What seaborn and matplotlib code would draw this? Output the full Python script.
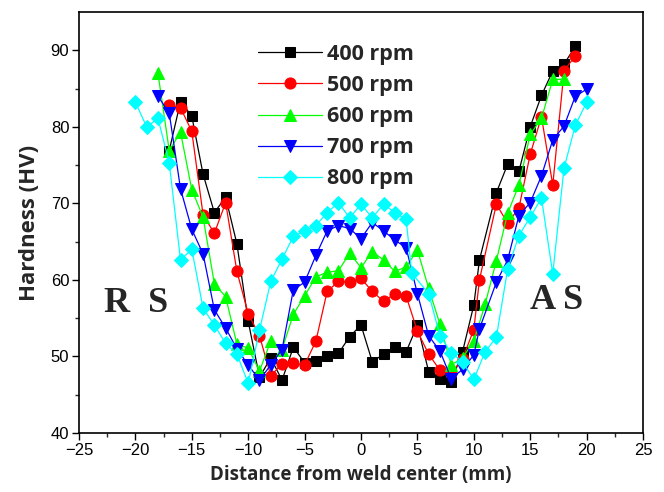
import numpy as np
import pandas as pd
import matplotlib
matplotlib.use('Agg')
import matplotlib.pyplot as plt
import seaborn as sns

# ── Data ──────────────────────────────────────────────────────────────────────
x_400 = [-17, -16, -15, -14, -13, -12, -11, -10, -9, -8, -7, -6, -5, -4, -3, -2, -1, 0,
         1, 2, 3, 4, 5, 6, 7, 8, 9, 10, 10.5, 12, 13, 14, 15, 16, 17, 18, 19]
hv_400 = [76.9, 83.3, 81.4, 73.8, 68.8, 70.8, 64.7, 54.6, 47.3, 49.8, 46.9, 51.2, 49.2, 49.4,
          50.1, 50.4, 52.6, 54.1, 49.3, 50.3, 51.3, 50.6, 54.1, 48.0, 47.1, 46.7, 50.6, 56.7,
          62.6, 71.4, 75.1, 74.2, 80.0, 84.1, 87.3, 88.2, 90.5]

x_500 = [-17, -16, -15, -14, -13, -12, -11, -10, -9, -8, -7, -6, -5, -4, -3, -2, -1, 0,
         1, 2, 3, 4, 5, 6, 7, 8, 9, 10, 10.5, 12, 13, 14, 15, 16, 17, 18, 19]
hv_500 = [82.8, 82.5, 79.4, 68.5, 66.1, 70.1, 61.1, 55.6, 52.7, 47.5, 49.0, 49.1, 48.9, 52.0,
          58.5, 59.8, 59.7, 60.2, 58.5, 57.2, 58.2, 57.9, 53.3, 50.3, 48.2, 47.8, 49.7, 53.5,
          60.0, 69.9, 67.4, 69.4, 76.4, 81.3, 72.4, 87.3, 89.3]

x_600 = [-18, -17, -16, -15, -14, -13, -12, -11, -10, -9, -8, -7, -6, -5, -4, -3, -2, -1, 0,
         1, 2, 3, 4, 5, 6, 7, 8, 9, 10, 11, 12, 13, 14, 15, 16, 17, 18]
hv_600 = [87.0, 76.9, 79.3, 71.8, 68.2, 59.5, 57.8, 51.6, 51.1, 48.1, 52.0, 50.9, 55.5, 57.9,
          60.4, 61.0, 61.2, 63.5, 61.6, 63.7, 62.6, 61.1, 61.7, 63.9, 58.9, 54.2, 48.9, 49.8,
          52.0, 56.8, 62.5, 68.7, 72.4, 79.0, 81.1, 86.2, 86.2]

x_700 = [-18, -17, -16, -15, -14, -13, -12, -11, -10, -9, -8, -7, -6, -5, -4, -3, -2, -1, 0,
         1, 2, 3, 4, 5, 6, 7, 8, 9, 10, 10.5, 12, 13, 14, 15, 16, 17, 18, 19, 20]
hv_700 = [84.0, 81.8, 71.9, 66.6, 63.4, 56.1, 53.7, 51.0, 48.9, 46.9, 48.9, 50.9, 58.7, 59.7,
          63.2, 66.4, 67.1, 66.7, 65.4, 67.5, 66.4, 65.2, 64.2, 58.2, 52.7, 50.7, 47.1, 48.3,
          50.2, 53.6, 59.7, 62.6, 68.4, 70.1, 73.6, 78.3, 80.1, 84.0, 84.9]

x_800 = [-20, -19, -18, -17, -16, -15, -14, -13, -12, -11, -10, -9, -8, -7, -6, -5, -4, -3,
         -2, -1, 0, 1, 2, 3, 4, 4.5, 6, 7, 8, 9, 10, 11, 12, 13, 14, 15, 16, 17, 18, 19, 20]
hv_800 = [83.2, 80.0, 81.1, 75.3, 62.6, 64.0, 56.3, 54.1, 51.7, 50.3, 46.5, 53.4, 59.8, 62.7,
          65.7, 66.4, 67.1, 68.8, 70.1, 68.1, 69.9, 68.1, 69.9, 68.8, 67.9, 60.9, 58.2, 52.7,
          50.5, 49.3, 47.0, 50.6, 52.5, 61.4, 65.8, 68.2, 70.7, 60.8, 74.6, 80.2, 83.2]

labels  = ['400 rpm', '500 rpm', '600 rpm', '700 rpm', '800 rpm']
colors  = ['black', 'red', '#00FF00', 'blue', '#00FFFF']
markers = ['s', 'o', '^', 'v', 'D']
sizes   = [7, 8, 8.5, 8.5, 7]

series = [(x_400, hv_400), (x_500, hv_500), (x_600, hv_600), (x_700, hv_700), (x_800, hv_800)]
df = pd.concat([pd.DataFrame({'x': xs, 'hv': ys, 'speed': lab})
                for (xs, ys), lab in zip(series, labels)], ignore_index=True)

# ── Plot ──────────────────────────────────────────────────────────────────────
sns.set_style('ticks')
plt.rcParams['font.family'] = ['Liberation Sans', 'DejaVu Sans']

fig = plt.figure(figsize=(6.64, 4.92), dpi=100)
ax = fig.add_axes([79/664, 1 - 433/492, 564/664, 421/492])

for lab, col, mk, ms in zip(labels, colors, markers, sizes):
    sub = df[df['speed'] == lab]
    sns.lineplot(data=sub, x='x', y='hv', ax=ax, color=col, marker=mk,
                 markersize=ms, markeredgecolor=col, linewidth=0.9,
                 label=lab, sort=False, estimator=None)

ax.set_xlim(-25, 25)
ax.set_ylim(40, 95)
ax.set_xticks(np.arange(-25, 26, 5))
ax.set_xticks(np.arange(-22.5, 25, 5), minor=True)
ax.set_yticks(np.arange(40, 91, 10))
ax.set_yticks(np.arange(45, 95, 10), minor=True)
ax.tick_params(axis='both', which='major', direction='out', length=5, width=1,
               labelsize=12, colors='black', pad=2)
ax.tick_params(axis='both', which='minor', direction='out', length=3, width=1)
for sp in ax.spines.values():
    sp.set_visible(True)
    sp.set_linewidth(1.2)
    sp.set_color('black')

ax.set_xlabel('Distance from weld center (mm)', fontsize=13.5, fontweight='bold',
              family='Open Sans', labelpad=5)
ax.set_ylabel('Hardness (HV)', fontsize=16, fontweight='bold',
              family='Open Sans', labelpad=8)

ax.text(-19.9, 56.9, 'R  S', fontsize=26, fontweight='bold',
        family='Liberation Serif', ha='center', va='center')
ax.text(17.3, 57.3, 'A S', fontsize=26, fontweight='bold',
        family='Liberation Serif', ha='center', va='center')

leg = ax.legend(loc='upper left', bbox_to_anchor=(0.29, 0.96), frameon=False,
                handlelength=3.0, handletextpad=0.23, labelspacing=0.47, borderpad=0.2,
                prop={'family': 'Open Sans', 'weight': 'bold', 'size': 15.5})

fig.savefig('out.png', dpi=100)
